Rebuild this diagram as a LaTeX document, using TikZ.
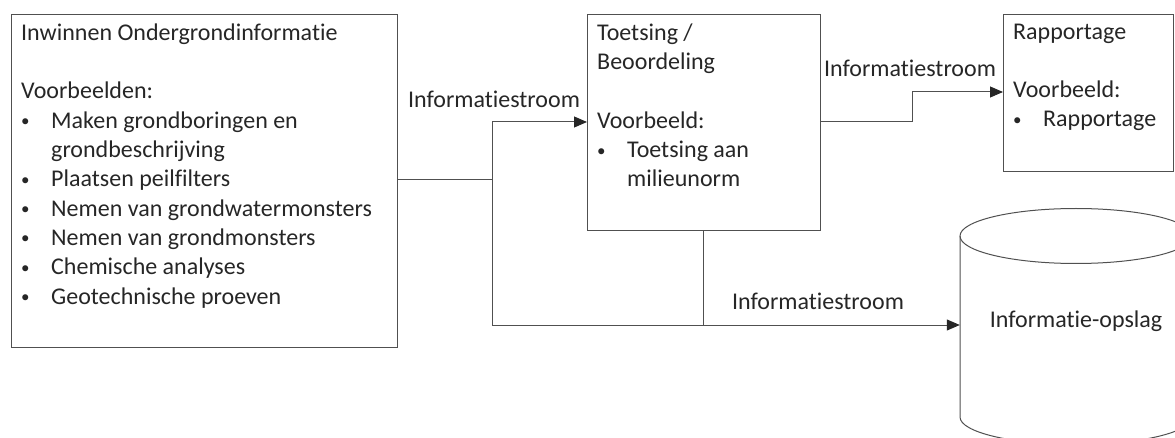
\documentclass[tikz,border=0pt]{standalone}
\usepackage{fontspec}
\setmainfont{Carlito}[Ligatures=NoCommon]
\usepackage{tikz}
\definecolor{ink}{HTML}{262626}
\definecolor{rule}{HTML}{505050}
\usetikzlibrary{arrows.meta, positioning, calc}
\newcommand{\bul}{\makebox[30pt][l]{\raisebox{1.5pt}{\fontsize{17}{17}\selectfont\textbullet}}}
\newcommand{\ind}{\hspace*{30pt}}
\tikzset{
  every picture/.style={line join=miter},
  every node/.style={font=\fontsize{24}{29.3}\selectfont, text=ink},
  box/.style={draw=rule, line width=1pt, anchor=north west, inner sep=0pt},
  boxtext/.style={anchor=north west, align=left, inner sep=0pt},
  flow/.style={draw=rule, line width=1pt},
  arrow/.style={flow, -{Triangle[length=13pt,width=11pt,color=ink]}},
  annot/.style={anchor=base, inner sep=0pt}
}

\begin{document}
\begin{tikzpicture}[x=1pt, y=-1pt]
  \useasboundingbox (0,0) rectangle (1175,438);

  % Boxes
  \node[box, minimum width=386pt, minimum height=333pt] (gather) at (11,14) {};
  \node[box, minimum width=233pt, minimum height=216pt] (check) at (587,14) {};
  \node[box, minimum width=170pt, minimum height=157pt] (report) at (1003,14) {};

  \node[boxtext] (gathertxt) at (21,23.5) {Inwinnen Ondergrondinformatie\\[29.3pt]
    Voorbeelden:\\
    \bul Maken grondboringen en\\
    \ind grondbeschrijving\\
    \bul Plaatsen peilfilters\\
    \bul Nemen van grondwatermonsters\\
    \bul Nemen van grondmonsters\\
    \bul Chemische analyses\\
    \bul Geotechnische proeven};
  \node[boxtext] (checktxt) at (597,23.5) {Toetsing /\\
    Beoordeling\\[29.3pt]
    Voorbeeld:\\
    \bul Toetsing aan\\
    \ind milieunorm};
  \node[boxtext] (reporttxt) at (1013,23.5) {Rapportage\\[29.3pt]
    Voorbeeld:\\
    \bul Rapportage};

  % Storage cylinder
  \node[minimum width=232pt, minimum height=20pt, inner sep=0pt] (store) at (1076,325) {};
  \node[annot] (storetxt) at (1076,327) {Informatie-opslag};
  \begin{scope}
    \clip (0,0) rectangle (1175,438);
    \draw[flow] (960,236) -- (960,417) arc[start angle=180, end angle=360, x radius=116, y radius=-27.5]
      -- (1192,236);
    \draw[flow] (1076,236) ellipse[x radius=116, y radius=27.5];
  \end{scope}

  % Information flows
  \coordinate (split) at (492,180);
  \draw[flow] (gather.east |- split) -- (split);
  \draw[arrow] (split) |- (check.west |- 0,122);
  \draw[arrow] (split) |- (store.west);
  \draw[flow] (check.south -| 703,0) -- (703,325);
  \draw[arrow] (check.east |- 0,122) -- (912,122) |- (report.west |- 0,92);

  \node[annot] (lbl1) at (494,108) {Informatiestroom};
  \node[annot] (lbl2) at (910,77) {Informatiestroom};
  \node[annot] (lbl3) at (818,309) {Informatiestroom};
\end{tikzpicture}
\end{document}
